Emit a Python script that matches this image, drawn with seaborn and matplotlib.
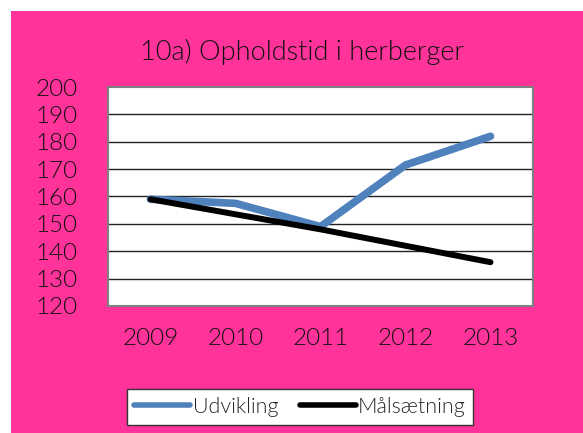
import matplotlib
matplotlib.use("Agg")
import matplotlib.pyplot as plt
import seaborn as sns
import pandas as pd
from matplotlib.patches import Rectangle
from matplotlib.lines import Line2D

# Données
years = [2009, 2010, 2011, 2012, 2013]
udvikling = [159, 157.5, 149, 171.5, 182]
maalsaetning = [159, 153.5, 148, 142, 136]
series_names = ["Udvikling", "Målsætning"]
yticks = [120, 130, 140, 150, 160, 170, 180, 190, 200]

df = pd.DataFrame({
    "year": years * 2,
    "value": udvikling + maalsaetning,
    "serie": [series_names[0]] * len(years) + [series_names[1]] * len(years),
})

sns.set_style("white")
plt.rcParams["font.family"] = ["Lato", "DejaVu Sans"]
plt.rcParams["font.weight"] = 300

pink = "#FF3399"
blue = "#4F81BD"

fig = plt.figure(figsize=(5.83, 4.33), dpi=100, facecolor="white")
# fond rose (marge blanche en haut et à gauche)
fig.patches.append(Rectangle((11 / 583, 0), 1 - 11 / 583, 1 - 11 / 433,
                             transform=fig.transFigure, facecolor=pink,
                             edgecolor="none", zorder=-10))

ax = fig.add_axes([108 / 583, (433 - 306) / 433, 425 / 583, 219 / 433])
ax.set_facecolor("white")

sns.lineplot(data=df, x="year", y="value", hue="serie",
             palette={series_names[0]: blue, series_names[1]: "black"},
             ax=ax, legend=False, zorder=3)
for line, lw in zip(ax.lines, [5.5, 4.3]):
    line.set_linewidth(lw)
    line.set_solid_capstyle("round")
    line.set_solid_joinstyle("miter")

ax.set_xlim(2008.5, 2013.5)
ax.set_ylim(120, 200)
ax.set_xticks(years)
ax.set_xticklabels([str(y) for y in years])
ax.set_yticks(yticks)
ax.set_xlabel("")
ax.set_ylabel("")
for y in yticks[1:-1]:
    ax.axhline(y, color="#222222", lw=1.0, zorder=1)
for s in ax.spines.values():
    s.set_color("#808080")
    s.set_linewidth(1.5)
ax.tick_params(axis="both", length=0, labelsize=17.5, colors="#111111")
ax.tick_params(axis="y", pad=22)
ax.tick_params(axis="x", pad=16)

fig.text(302 / 583, 1 - 52 / 433, "10a) Opholdstid i herberger",
         ha="center", va="center", fontsize=19.5, color="#111111")

handles = [Line2D([], [], color=blue, lw=4, solid_capstyle="round"),
           Line2D([], [], color="black", lw=4, solid_capstyle="round")]
leg = fig.legend(handles, series_names, loc="center",
                 bbox_to_anchor=(300 / 583, 1 - 407 / 433), ncol=2,
                 fontsize=15.5, frameon=True, fancybox=False,
                 handlelength=2.6, handletextpad=0.1, columnspacing=1.0,
                 borderpad=0.35)
leg.get_frame().set_edgecolor("#333333")
leg.get_frame().set_linewidth(1.0)
leg.get_frame().set_facecolor("white")
leg.get_frame().set_alpha(1)

fig.savefig("out.png", dpi=100, facecolor="white")
